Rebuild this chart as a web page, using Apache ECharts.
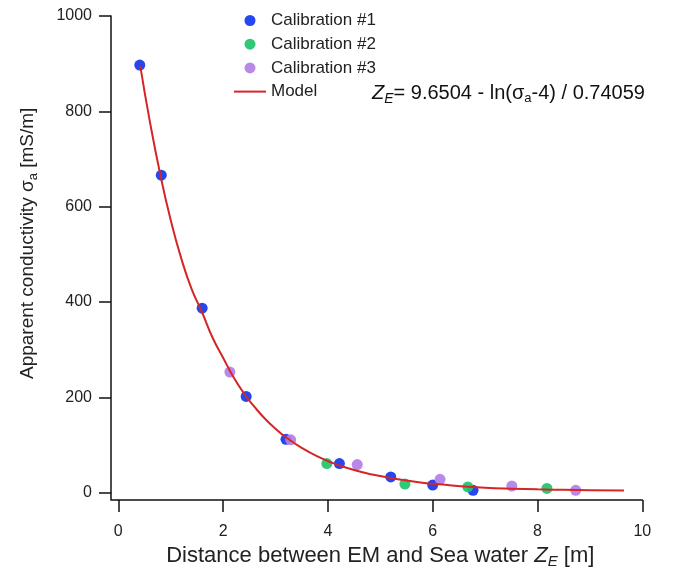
<!DOCTYPE html>
<html>
<head>
<meta charset="utf-8">
<script src="https://cdn.jsdelivr.net/npm/echarts@6/dist/echarts.min.js"></script>
<style>html,body{margin:0;padding:0;background:#fff;}#c{width:673px;height:573px;}</style>
</head>
<body>
<div id="c"></div>
<script>
// Data: [distance Z_E (m), conductivity (mS/m)]
const calibration1 = [[0.41,897],[0.82,666],[1.60,387],[2.44,202],[3.20,112],[4.22,61],[5.20,33],[6.00,16],[6.77,5]];
const calibration2 = [[3.98,61],[5.47,18],[6.67,12],[8.18,9]];
const calibration3 = [[2.13,253],[3.29,111],[4.56,59],[6.14,28],[7.51,14],[8.73,5]];
const modelCurve = [[0.42,895],[0.6,780],[0.8,668],[1.0,572],[1.2,492],[1.4,427],[1.6,378],[1.8,325],[2.0,283],[2.2,242],[2.4,208],[2.6,180],[2.8,155],[3.0,134],[3.2,116],[3.5,94],[3.8,76],[4.1,62],[4.4,51],[4.7,42],[5.0,35],[5.4,27],[5.8,21],[6.2,17],[6.6,13],[7.0,10.5],[7.5,8.5],[8.0,7],[8.5,6],[9.0,5.2],[9.65,4.8]];
const xTicks = [0,2,4,6,8,10];
const yTicks = [0,200,400,600,800,1000];

const FONT = 'Liberation Sans, Arial, sans-serif';
const OFF = 7.3;
const AX = '#111';
const chart = echarts.init(document.getElementById('c'));
chart.setOption({
  animation: false,
  backgroundColor: '#fff',
  grid: {left: 118.3, right: 30.7, top: 16, bottom: 80.3, containLabel: false, outerBoundsMode: 'none'},
  legend: {
    orient: 'vertical', left: 229, top: 7, itemWidth: 32, itemHeight: 11, itemGap: 6.7,
    textStyle: {fontFamily: FONT, fontSize: 17, color: '#222'},
    data: ['Calibration #1','Calibration #2','Calibration #3',
           {name: 'Model', icon: 'path://M0,0H32V2H0Z'}]
  },
  xAxis: {
    type: 'value', min: xTicks[0], max: xTicks[xTicks.length-1], interval: 2, offset: OFF,
    axisLine: {onZero: false, lineStyle: {color: AX, width: 1.5}},
    axisTick: {show: true, inside: false, length: 12, lineStyle: {color: AX, width: 1.5}},
    axisLabel: {margin: 24, fontFamily: FONT, fontSize: 16, color: '#222', formatter: v => String(v)},
    splitLine: {show: false},
    name: '{n|Distance between EM and Sea water }{z|Z}{s|E}{n| [m]}',
    nameLocation: 'middle', nameGap: 38,
    nameTextStyle: {
      rich: {
        n: {fontFamily: FONT, fontSize: 22, color: '#222'},
        z: {fontFamily: FONT, fontSize: 22, color: '#222', fontStyle: 'italic'},
        s: {fontFamily: FONT, fontSize: 15, color: '#222', fontStyle: 'italic', padding: [12,0,0,0]}
      }
    }
  },
  yAxis: {
    type: 'value', min: yTicks[0], max: yTicks[yTicks.length-1], interval: 200, offset: OFF,
    axisLine: {show: true, onZero: false, lineStyle: {color: AX, width: 1.5}},
    axisTick: {show: true, inside: false, length: 12, lineStyle: {color: AX, width: 1.5}},
    axisLabel: {margin: 19, fontFamily: FONT, fontSize: 16, color: '#222', formatter: v => String(v)},
    splitLine: {show: false},
    name: '{n|Apparent conductivity σ}{s|a}{n| [mS/m]}',
    nameLocation: 'middle', nameGap: 71, nameRotate: 90,
    nameTextStyle: {
      padding: [0, 0, 0, 22],
      rich: {
        n: {fontFamily: FONT, fontSize: 19, color: '#222'},
        s: {fontFamily: FONT, fontSize: 13, color: '#222', padding: [11,0,0,0]}
      }
    }
  },
  series: [
    {name: 'Calibration #1', type: 'scatter', data: calibration1, symbolSize: 11, itemStyle: {color: '#1336ef', opacity: 0.92}, z: 3},
    {name: 'Calibration #2', type: 'scatter', data: calibration2, symbolSize: 11, itemStyle: {color: '#1fc46a', opacity: 0.92}, z: 3},
    {name: 'Calibration #3', type: 'scatter', data: calibration3, symbolSize: 11, itemStyle: {color: '#b47fe6', opacity: 0.92}, z: 3},
    {name: 'Model', type: 'line', data: modelCurve, smooth: true, showSymbol: false, symbol: 'none',
     lineStyle: {color: '#d42626', width: 2}, itemStyle: {color: '#d42626'}, z: 4}
  ],
  graphic: [{
    id: 'eq', type: 'text', left: 372, top: 83,
    style: {
      text: '{z|Z}{s|E}{n|= 9.6504 - ln(σ}{t|a}{n|-4) / 0.74059}',
      rich: {
        n: {fontFamily: FONT, fontSize: 20, fill: '#111'},
        z: {fontFamily: FONT, fontSize: 20, fill: '#111', fontStyle: 'italic'},
        s: {fontFamily: FONT, fontSize: 14, fill: '#111', fontStyle: 'italic', padding: [12,0,0,0]},
        t: {fontFamily: FONT, fontSize: 13, fill: '#111', padding: [11,0,0,0]}
      }
    }
  }]
});
// join the offset axes at the lower-left corner, as in the original
const p0 = chart.convertToPixel({gridIndex: 0}, [xTicks[0], yTicks[0]]);
chart.setOption({
  graphic: [{
    id: 'corner', type: 'polyline', silent: true,
    shape: {points: [[p0[0] - OFF, p0[1]], [p0[0] - OFF, p0[1] + OFF], [p0[0], p0[1] + OFF]]},
    style: {stroke: AX, lineWidth: 1.5, fill: null}
  }]
});
</script>
</body>
</html>
